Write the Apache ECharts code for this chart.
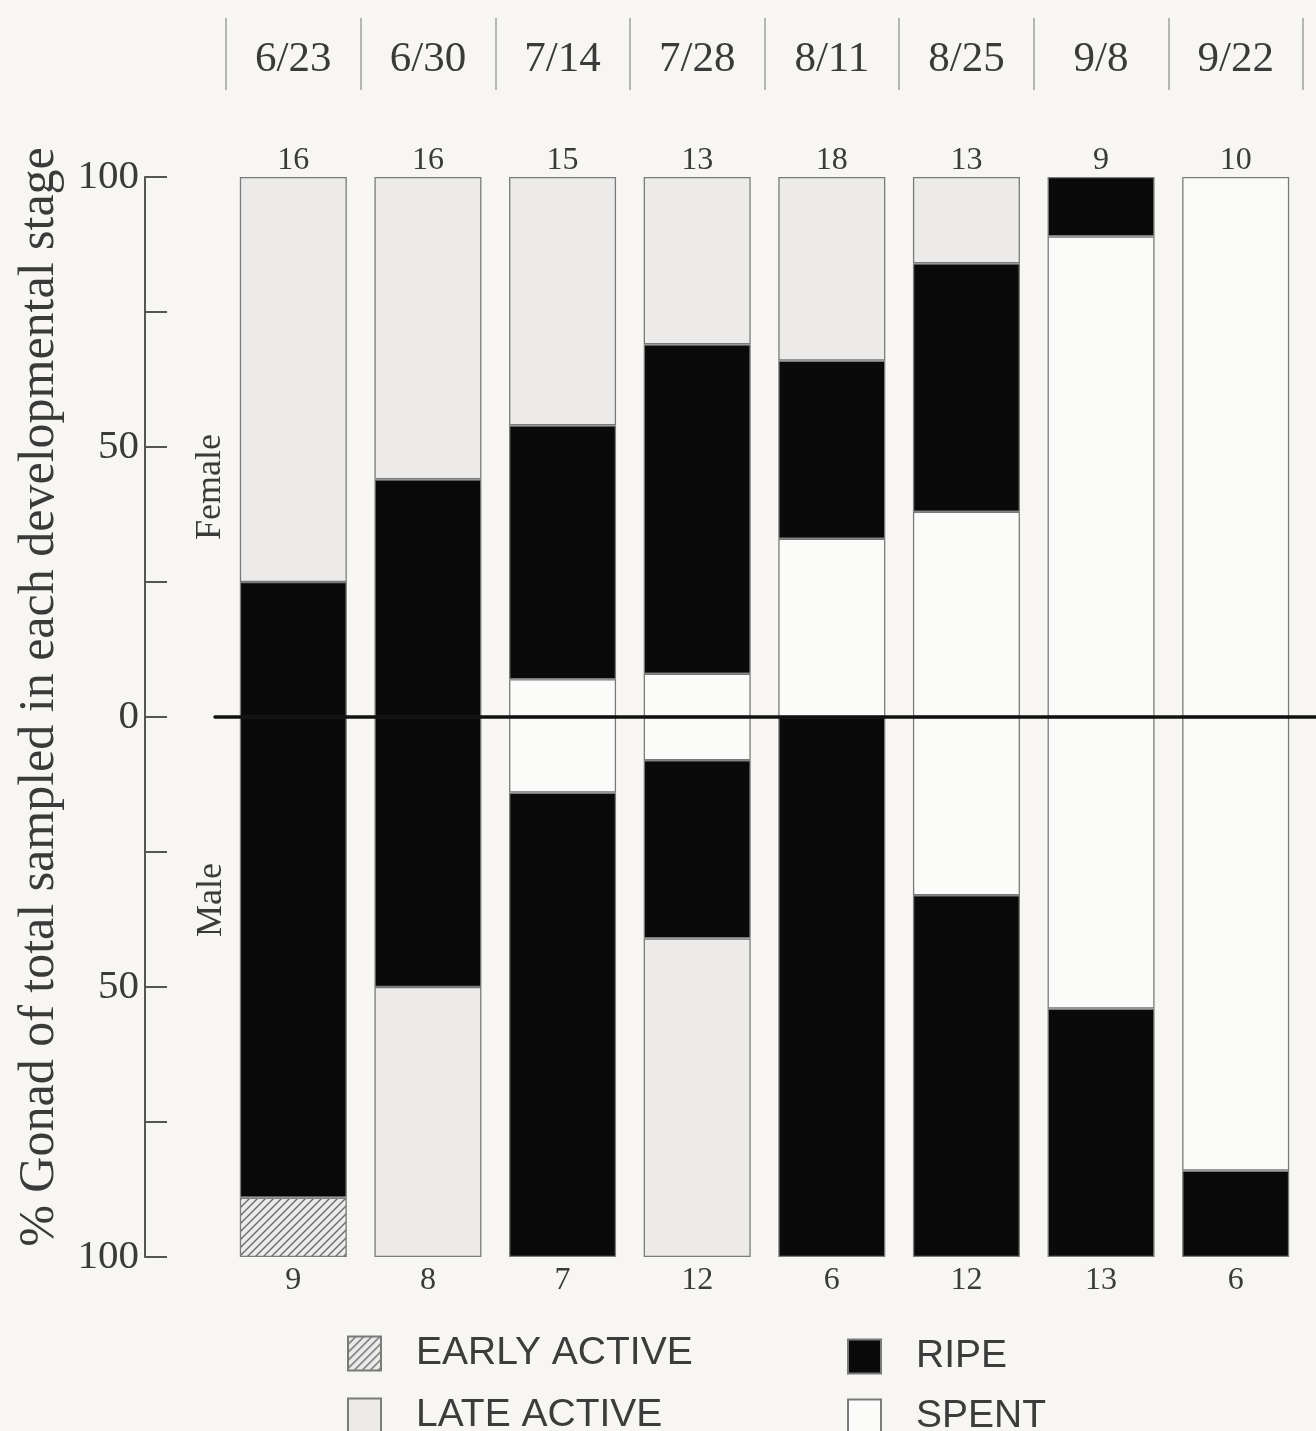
<!DOCTYPE html>
<html>
<head>
<meta charset="utf-8">
<script src="https://cdn.jsdelivr.net/npm/echarts@6/dist/echarts.min.js"></script>
<style>
html,body{margin:0;padding:0;background:#f7f6f3;}
#c{width:1316px;height:1431px;}
</style>
</head>
<body>
<div id="c"></div>
<script>
// ---- data ----
const dates = ['6/23','6/30','7/14','7/28','8/11','8/25','9/8','9/22'];
const femaleN = [16,16,15,13,18,13,9,10];
const maleN = [9,8,7,12,6,12,13,6];
// female (% , stacked upward from 0): spent, ripe, late active
const femaleSpent = [0,0,7,8,33,38,89,100];
const femaleRipe  = [25,44,47,61,33,46,11,0];
const femaleLate  = [75,56,46,31,34,16,0,0];
// male (% , stacked downward from 0): spent, ripe, late active, early active
const maleSpent = [0,0,14,8,0,33,54,84];
const maleRipe  = [89,50,86,33,100,67,46,16];
const maleLate  = [0,50,0,59,0,0,0,0];
const maleEarly = [11,0,0,0,0,0,0,0];
const yLabelValues = [-100,-50,0,50,100];

// hatch pattern
function hatch(){
  const s = 8, c = document.createElement('canvas');
  c.width = s; c.height = s;
  const g = c.getContext('2d');
  g.fillStyle = '#ecebe9'; g.fillRect(0,0,s,s);
  g.strokeStyle = '#6a6a6a'; g.lineWidth = 1.4;
  g.beginPath();
  g.moveTo(0,s); g.lineTo(s,0);
  g.moveTo(-2,2); g.lineTo(2,-2);
  g.moveTo(s-2,s+2); g.lineTo(s+2,s-2);
  g.stroke();
  return c;
}
const colors = {
  'EARLY ACTIVE': {image: hatch(), repeat: 'repeat'},
  'LATE ACTIVE': '#ecebe9',
  'RIPE': '#0a0a0a',
  'SPENT': '#fbfbfa'
};
const serif = '"Liberation Serif", "Times New Roman", serif';
const sans = '"Liberation Sans", Arial, sans-serif';

function mk(name, data, sign){
  return {
    name, type:'bar', stack:'all', stackStrategy:'samesign',
    barWidth:107, xAxisIndex:0, yAxisIndex:0, silent:true,
    data: data.map(v => v === 0 ? '-' : sign*v),
    itemStyle:{color: colors[name], borderColor:'#7a7a7a', borderWidth:1.3},
    emphasis:{disabled:true}
  };
}

const series = [
  mk('SPENT', femaleSpent, 1),
  mk('RIPE', femaleRipe, 1),
  mk('LATE ACTIVE', femaleLate, 1),
  mk('SPENT', maleSpent, -1),
  mk('RIPE', maleRipe, -1),
  mk('LATE ACTIVE', maleLate, -1),
  mk('EARLY ACTIVE', maleEarly, -1)
];

function lg(name, left, top){
  return {data:[name], left, top, icon:'rect', itemWidth:33, itemHeight:34,
    padding:0, selectedMode:false,
    textStyle:{fontSize:39, fontFamily:sans, color:'#3c3c3c', padding:[0,0,0,30]}};
}

const chart = echarts.init(document.getElementById('c'), null, {renderer:'canvas'});
chart.setOption({
  backgroundColor:'#f7f6f3',
  animation:false,
  grid:[
    {left:226, right:13, top:177, bottom:174},
    {left:215, right:0, top:177, bottom:174}
  ],
  xAxis:[
    {type:'category', gridIndex:0, position:'bottom', data:dates,
     axisLine:{show:false}, axisTick:{show:false},
     axisLabel:{formatter:(v,i)=>String(maleN[i]), margin:8, fontSize:32, fontFamily:serif, color:'#3a3a3a'}},
    {type:'category', gridIndex:0, position:'top', data:dates, offset:0,
     axisLine:{show:false}, axisTick:{show:false},
     axisLabel:{formatter:(v,i)=>String(femaleN[i]), margin:0, fontSize:32, fontFamily:serif, color:'#3a3a3a'}},
    {type:'category', gridIndex:0, position:'top', data:dates, offset:87,
     axisLine:{show:false},
     axisTick:{show:true, length:72, lineStyle:{color:'#b5b5b5', width:2}},
     axisLabel:{margin:9, fontSize:43, fontFamily:serif, color:'#3a3a3a'}},
    {type:'value', gridIndex:1, min:0, max:1, z:10,
     axisLine:{show:true, onZero:true, lineStyle:{color:'#111', width:3.5}},
     axisTick:{show:false}, axisLabel:{show:false}, splitLine:{show:false}}
  ],
  yAxis:[
    {type:'value', gridIndex:0, min:-100, max:100, interval:25, offset:81,
     axisLine:{show:true, lineStyle:{color:'#555', width:2}},
     axisTick:{show:true, inside:true, length:22, lineStyle:{color:'#555', width:2}},
     axisLabel:{margin:6, fontSize:41, fontFamily:serif, color:'#3a3a3a',
       formatter:v => yLabelValues.includes(v) ? String(Math.abs(v)) : ''},
     splitLine:{show:false},
     name:'% Gonad of total sampled in each developmental stage',
     nameLocation:'middle', nameGap:80, nameRotate:90,
     nameTextStyle:{fontSize:50, fontFamily:serif, color:'#3a3a3a', padding:[0,0,0,40]}},
    {type:'value', gridIndex:1, min:-100, max:100,
     axisLine:{show:false}, axisTick:{show:false}, axisLabel:{show:false}, splitLine:{show:false}}
  ],
  legend:[
    lg('EARLY ACTIVE', 347, 1334),
    lg('LATE ACTIVE', 347, 1396),
    lg('RIPE', 847, 1337),
    lg('SPENT', 847, 1397)
  ],
  graphic:[
    {type:'text', x:211, y:487, rotation:Math.PI/2,
     style:{text:'Female', font:'36px "Liberation Serif"', fill:'#3a3a3a', align:'center', verticalAlign:'middle'}},
    {type:'text', x:212, y:900, rotation:Math.PI/2,
     style:{text:'Male', font:'36px "Liberation Serif"', fill:'#3a3a3a', align:'center', verticalAlign:'middle'}}
  ],
  series
});
</script>
</body>
</html>
